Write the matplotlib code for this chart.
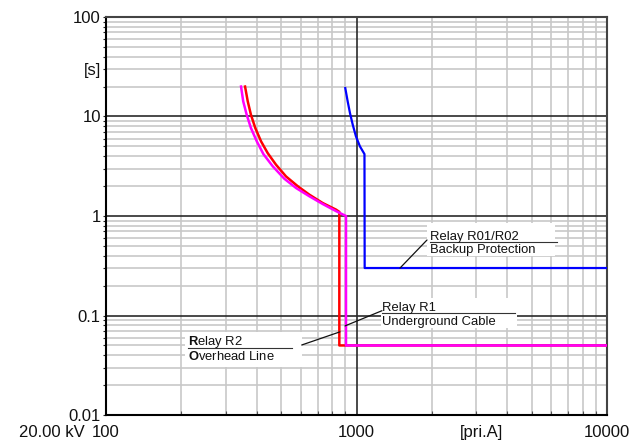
import matplotlib
matplotlib.use("Agg")
import matplotlib.pyplot as plt
from matplotlib.patches import Rectangle
from matplotlib.ticker import FixedLocator, NullFormatter

plt.rcParams['font.family'] = ['Liberation Sans', 'DejaVu Sans']
plt.rcParams['mathtext.fontset'] = 'custom'
plt.rcParams['mathtext.rm'] = 'Liberation Sans'
plt.rcParams['mathtext.bf'] = 'Liberation Sans:bold'

# ---- data ----
r2_current = [359, 368, 379, 394.5, 416, 442, 477, 523, 583, 648, 733, 828, 854,
              854, 10000]
r2_time = [20.0, 14.2, 10.4, 7.65, 5.62, 4.29, 3.28, 2.50, 1.99, 1.64, 1.35,
           1.16, 1.10, 0.05, 0.05]

r1_current = [346, 353, 364.5, 379, 400, 425, 463, 515, 574, 648, 733, 828, 908,
              908, 10000]
r1_time = [20.0, 14.2, 10.4, 7.65, 5.62, 4.19, 3.16, 2.37, 1.91, 1.58, 1.32,
           1.12, 1.0, 0.05, 0.05]

bk_current = [902, 922, 942, 966, 995, 1032, 1076, 1078, 10000]
bk_time = [19.3, 14.2, 10.8, 8.27, 6.31, 5.01, 4.19, 0.30, 0.30]

ytick_vals = [0.01, 0.1, 1, 10, 30, 100]
ytick_labels = ["0.01", "0.1", "1", "10", "[s]", "100"]
xtick_vals = [100, 1000, 3162, 10000]
xtick_labels = ["100", "1000", "[pri.A]", "10000"]
voltage_label = "20.00 kV"

W, H = 644, 444
fig = plt.figure(figsize=(W / 100, H / 100), dpi=100)
ax = fig.add_axes([106 / W, 1 - 415 / H, (607 - 106) / W, (415 - 17) / H])
ax.set_xscale('log')
ax.set_yscale('log')
ax.set_xlim(100, 10000)
ax.set_ylim(0.01, 100)

# grid
minor_x = [m * 10 ** e for e in (2, 3) for m in range(2, 10)]
minor_y = [m * 10 ** e for e in (-2, -1, 0, 1) for m in range(2, 10)]
for v in minor_x:
    ax.axvline(v, color='#c8c8c8', lw=1.2, zorder=1)
for v in minor_y:
    ax.axhline(v, color='#c8c8c8', lw=1.2, zorder=1)
for v in [0.1, 1, 10]:
    ax.axhline(v, color='#2a2a2a', lw=1.2, zorder=1.2)
ax.axvline(1000, color='#2a2a2a', lw=1.2, zorder=1.2)

ax.yaxis.set_major_locator(FixedLocator(ytick_vals))
ax.set_yticklabels(ytick_labels)
ax.yaxis.set_minor_locator(FixedLocator(minor_y))
ax.yaxis.set_minor_formatter(NullFormatter())
ax.xaxis.set_major_locator(FixedLocator(xtick_vals))
ax.set_xticklabels(xtick_labels)
ax.xaxis.set_minor_locator(FixedLocator(minor_x))
ax.xaxis.set_minor_formatter(NullFormatter())
ax.tick_params(axis='y', which='both', direction='out', length=2.5, width=0.8,
               color='#222222', pad=1.2, labelsize=12, labelcolor='#111111')
ax.tick_params(axis='x', which='major', length=0, pad=7, labelsize=12,
               labelcolor='#111111')
ax.tick_params(axis='x', which='minor', direction='in', length=3, width=0.8,
               color='#555555')

for s in ['left', 'bottom']:
    ax.spines[s].set_color('#000000')
    ax.spines[s].set_linewidth(1.5)
for s in ['top', 'right']:
    ax.spines[s].set_color('#444444')
    ax.spines[s].set_linewidth(1.5)

# curves
ax.plot(r2_current, r2_time, color='#ff0000', lw=1.8, zorder=3)
ax.plot(r1_current, r1_time, color='#ff00ff', lw=1.8, zorder=3.1)
ax.plot(bk_current, bk_time, color='#0000ff', lw=1.6, zorder=3.2)


def px(x, y):
    return (x / W, 1 - y / H)


def label(lines, left, base1, base2, ul_right, ul_y, box, lead_from, lead_to):
    x0, y0, x1, y1 = box
    ax.add_patch(Rectangle(px(x0, y1), (x1 - x0) / W, (y1 - y0) / H,
                           transform=fig.transFigure, facecolor='white',
                           edgecolor='none', zorder=2.5, clip_on=False))
    fig.text(*px(left, base1), lines[0], ha='left', va='baseline',
             fontsize=9.4, color='#111111', zorder=4)
    fig.text(*px(left, base2), lines[1], ha='left', va='baseline',
             fontsize=9.4, color='#111111', zorder=4)
    ax.plot([left / W, ul_right / W], [1 - ul_y / H, 1 - ul_y / H],
            transform=fig.transFigure, color='#333333', lw=0.8, zorder=4,
            clip_on=False)
    ax.annotate('', xy=lead_to, xycoords='data', xytext=px(*lead_from),
                textcoords='figure fraction',
                arrowprops=dict(arrowstyle='-', lw=0.9, color='#111111',
                                shrinkA=0, shrinkB=0), zorder=4)


label(["Relay R01/R02", "Backup Protection"], 430, 240, 253, 557, 241.7,
      (427, 223, 555, 256), (427, 240), (1492, 0.3))
label(["Relay R1", "Underground Cable"], 382, 311.5, 325, 515, 313.3,
      (381, 298, 517, 328), (382, 310.7), (900, 0.0786))
label([r"$\mathbf{R}$elay R2", r"$\mathbf{O}$verhead Line"], 188, 345, 360,
      292, 348.3, (185, 332, 302, 367), (301.7, 345), (859, 0.0685))

fig.text(*px(85, 436.5), voltage_label, ha='right', va='baseline',
         fontsize=12, color='#111111')

fig.savefig('out.png', dpi=100)
